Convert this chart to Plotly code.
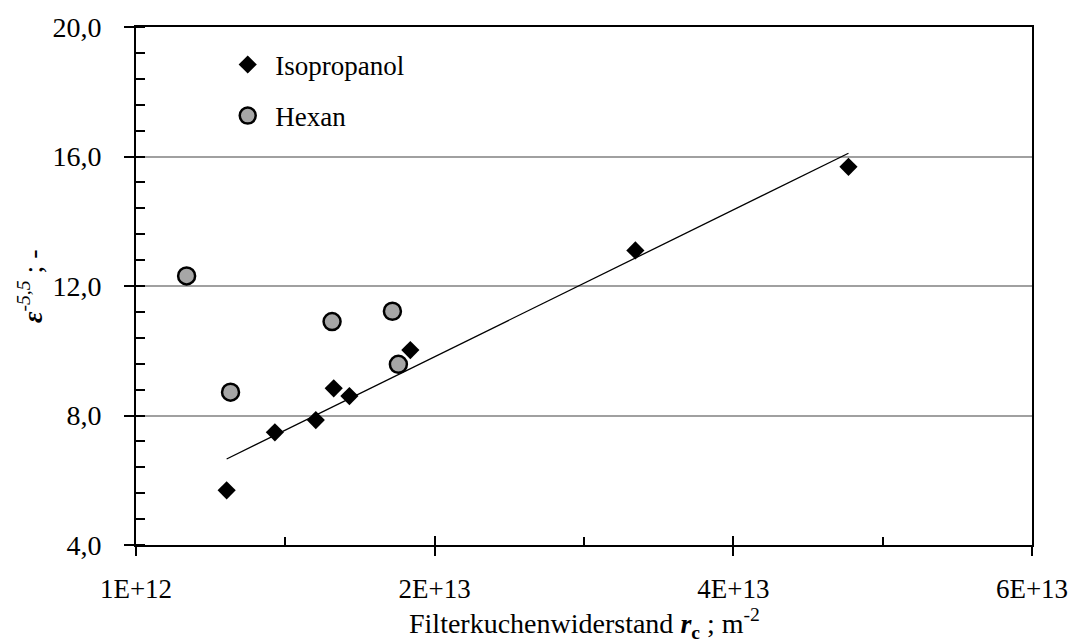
import numpy as np
import plotly.graph_objects as go

# Filter cake resistance r_c (m^-2) and porosity function eps^-5.5
iso_rc = [7.07e12, 1.030e13, 1.304e13, 1.424e13, 1.529e13, 1.937e13, 3.444e13, 4.871e13]
iso_eps = [5.69, 7.48, 7.86, 8.84, 8.60, 10.02, 13.10, 15.68]

hex_rc = [4.39e12, 7.33e12, 1.413e13, 1.817e13, 1.857e13]
hex_eps = [12.31, 8.72, 10.90, 11.22, 9.58]

x_tickvals = [1e12, 2.1e13, 4.1e13, 6.1e13]
x_ticktext = ["1E+12", "2E+13", "4E+13", "6E+13"]

FONT = "Liberation Serif"

# Linear trend through the isopropanol series
slope, intercept = np.polyfit(iso_rc, iso_eps, 1)
trend_x = np.array([min(iso_rc), max(iso_rc)])
trend_y = slope * trend_x + intercept

fig = go.Figure()

fig.add_trace(go.Scatter(
    x=trend_x, y=trend_y, mode="lines",
    line=dict(color="black", width=1.3),
    showlegend=False, hoverinfo="skip",
))
fig.add_trace(go.Scatter(
    x=iso_rc, y=iso_eps, mode="markers", name="Isopropanol",
    legendgroup="iso",
    marker=dict(symbol="diamond", size=14, color="black",
                line=dict(width=0)),
))
fig.add_trace(go.Scatter(
    x=hex_rc, y=hex_eps, mode="markers", name="Hexan",
    legendgroup="hex",
    marker=dict(symbol="circle", size=17, color="#A6A6A6",
                line=dict(color="black", width=2.5)),
))

# Secondary x axis carries the inner half of the crossing major ticks
fig.add_trace(go.Scatter(x=[None], y=[None], xaxis="x2", showlegend=False))

fig.update_layout(
    width=1085, height=643,
    margin=dict(l=136, r=53, t=22, b=98),
    paper_bgcolor="white", plot_bgcolor="white",
    separators=",.",
    font=dict(family=FONT, size=28, color="black"),
    showlegend=True,
    legend=dict(
        x=0.094, y=0.974, xanchor="left", yanchor="top",
        font=dict(family=FONT, size=27),
        bgcolor="rgba(0,0,0,0)", tracegroupgap=13,
        itemwidth=45,
    ),
    xaxis=dict(
        range=[1e12, 6.1e13],
        tickmode="array", tickvals=x_tickvals, ticktext=x_ticktext,
        ticks="outside", ticklen=9, tickwidth=2, tickcolor="black",
        ticklabelstandoff=10,
        minor=dict(tickmode="array",
                   tickvals=[1.1e13, 3.1e13, 5.1e13],
                   ticks="inside", ticklen=8, tickwidth=2,
                   tickcolor="black", showgrid=False),
        showline=True, linecolor="black", linewidth=2, mirror=True,
        showgrid=False, zeroline=False,
        tickfont=dict(family=FONT, size=27),
    ),
    xaxis2=dict(
        overlaying="x", side="bottom", matches="x",
        range=[1e12, 6.1e13],
        tickmode="array", tickvals=x_tickvals,
        ticks="inside", ticklen=9, tickwidth=2, tickcolor="black",
        showticklabels=False, showline=False, showgrid=False,
        zeroline=False,
    ),
    yaxis=dict(
        range=[4, 20], dtick=4, tick0=4, tickformat=".1f",
        ticks="outside", ticklen=10, tickwidth=2, tickcolor="black",
        ticklabelstandoff=17,
        minor=dict(dtick=0.8, ticks="inside", ticklen=9, tickwidth=2,
                   tickcolor="black", showgrid=False),
        showline=True, linecolor="black", linewidth=2, mirror=True,
        showgrid=True, gridcolor="#A0A0A0", gridwidth=1.5,
        zeroline=False,
        tickfont=dict(family=FONT, size=28),
    ),
    annotations=[
        dict(
            text="Filterkuchenwiderstand <b><i>r</i><sub>c</sub></b> ; m<sup>-2</sup>",
            xref="paper", yref="paper", x=0.5, y=0,
            xanchor="center", yanchor="middle", yshift=-78,
            showarrow=False, font=dict(family=FONT, size=28),
        ),
        dict(
            text="<b><i>ε</i></b><sup><i>-5,5</i></sup> ; -",
            xref="paper", yref="paper", x=0, y=0.5,
            xanchor="center", yanchor="middle", xshift=-106,
            textangle=-90, showarrow=False,
            font=dict(family=FONT, size=28),
        ),
    ],
)

fig.write_html("out.html")
